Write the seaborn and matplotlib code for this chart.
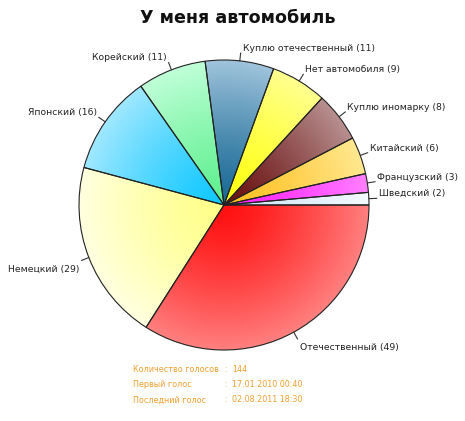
import numpy as np
import matplotlib
matplotlib.use("Agg")
import matplotlib.pyplot as plt
import seaborn as sns

sns.set_style("white")
plt.rcParams['font.family'] = ['DejaVu Sans']

labels = ["Шведский", "Французский", "Китайский", "Куплю иномарку", "Нет автомобиля",
          "Куплю отечественный", "Корейский", "Японский", "Немецкий", "Отечественный"]
votes = [2, 3, 6, 8, 9, 11, 11, 16, 29, 49]
# inner (centre) and outer (rim) colours of each slice's gradient
inner_colors = ["#cfe6f7", "#ff20ff", "#ffc020", "#6a1010", "#ffff10",
                "#1a6a96", "#60f090", "#10c8ff", "#ffff88", "#ff1010"]
outer_colors = ["#f4faff", "#ff80ff", "#ffe890", "#b89090", "#ffff90",
                "#a0c4dc", "#c0ffd8", "#a0e8ff", "#ffffe0", "#ff8080"]
title = "У меня автомобиль"
footer_keys = ["Количество голосов", "Первый голос", "Последний голос"]
footer_vals = ["144", "17.01.2010 00:40", "02.08.2011 18:30"]

W, H = 465, 421
fig = plt.figure(figsize=(W / 100, H / 100), dpi=100)
cx, cy, R = 224, 205, 145
ax = fig.add_axes([(cx - R) / W, 1 - (cy + R) / H, 2 * R / W, 2 * R / H])

wedges, _ = ax.pie(votes, startangle=0, counterclock=True, radius=1.0,
                   colors=["none"] * len(votes),
                   wedgeprops=dict(edgecolor="#222222", linewidth=0.8, zorder=3))

n = 400
xs = np.linspace(-1, 1, n)
X, Y = np.meshgrid(xs, xs)
Rr = np.clip(np.sqrt(X ** 2 + Y ** 2), 0, 1)
for w, ci, co in zip(wedges, inner_colors, outer_colors):
    a = np.array(matplotlib.colors.to_rgb(ci))
    b = np.array(matplotlib.colors.to_rgb(co))
    t = (Rr ** 1.3)[..., None]
    img = a * (1 - t) + b * t
    im = ax.imshow(img, extent=(-1, 1, -1, 1), origin="lower", zorder=2,
                   interpolation="bilinear")
    im.set_clip_path(w)

for w, lab, v in zip(wedges, labels, votes):
    ang = np.deg2rad((w.theta1 + w.theta2) / 2)
    c, s = np.cos(ang), np.sin(ang)
    ax.plot([c * 1.0, c * 1.055], [s * 1.0, s * 1.055], color="#333333",
            lw=0.8, zorder=4, clip_on=False)
    ha = "left" if c >= 0 else "right"
    va = "bottom" if s >= 0 else "top"
    dy = 0 if s >= 0 else -3
    ax.annotate(f"{lab} ({v})", xy=(c * 1.055, s * 1.055),
                xytext=(1.5 if c >= 0 else -1.5, dy), textcoords="offset points",
                ha=ha, va=va, fontsize=6.7, color="#222222", annotation_clip=False)

ax.set_xlim(-1, 1)
ax.set_ylim(-1, 1)
ax.set_aspect("equal")
ax.axis("off")

fig.text(238 / W, 1 - 18 / H, title, ha="center", va="center",
         fontsize=12.6, fontweight="bold", color="#111111")

orange = "#f0a030"
for i, (k, v) in enumerate(zip(footer_keys, footer_vals)):
    y = 1 - (369 + 15.5 * i) / H
    fig.text(133 / W, y, k, ha="left", va="center", fontsize=5.8, color=orange)
    fig.text(224 / W, y, ":", ha="left", va="center", fontsize=5.8, color=orange)
    fig.text(232 / W, y, v, ha="left", va="center", fontsize=5.8, color=orange)

fig.savefig("out.png", dpi=100, facecolor="white")
